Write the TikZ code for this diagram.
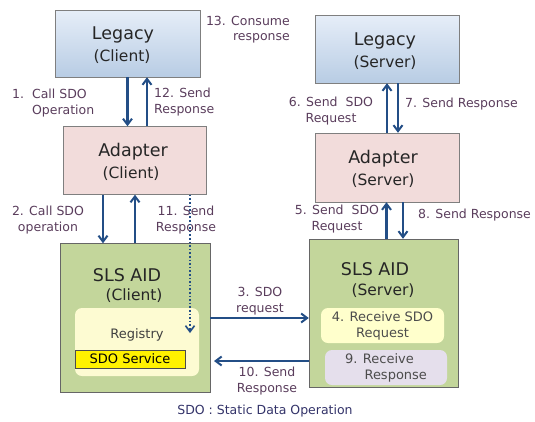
\documentclass[tikz,border=0pt]{standalone}
\usepackage{fontspec}
\setmainfont{DejaVu Sans}
\usetikzlibrary{arrows.meta,positioning,calc}
\definecolor{legtop}{HTML}{E6EEF8}
\definecolor{legbot}{HTML}{B8CCE4}
\definecolor{adpfill}{HTML}{F2DCDB}
\definecolor{slsfill}{HTML}{C3D69B}
\definecolor{regfill}{HTML}{FDFBD2}
\definecolor{reqfill}{HTML}{FFFFCC}
\definecolor{respfill}{HTML}{E5DFEC}
\definecolor{arrblue}{HTML}{234E86}
\definecolor{lbltext}{HTML}{5A3D5C}
\definecolor{boxline}{HTML}{7F7F7F}
\tikzset{
  legbox/.style={
    rectangle, draw=boxline, top color=legtop, bottom color=legbot,
    minimum width=#1, minimum height=67pt, inner sep=0pt, align=center
  },
  adpbox/.style={
    rectangle, draw=boxline, fill=adpfill,
    minimum width=#1, minimum height=68pt, inner sep=0pt, align=center
  },
  slsbox/.style={
    rectangle, draw=black!60, fill=slsfill,
    minimum width=150pt, minimum height=149pt, inner sep=0pt
  },
  inbox/.style={
    rectangle, rounded corners=7pt, fill=#1, inner sep=0pt
  },
  title/.style={font=\fontsize{17.5}{20}\selectfont, text=black!85},
  sub/.style={font=\fontsize{15.5}{18}\selectfont, text=black!85},
  lbl/.style={font=\fontsize{12.5}{15.5}\selectfont, text=lbltext, inner sep=0pt},
  arr/.style={-{Straight Barb[length=6pt,width=9pt,line width=2pt]}, line width=2.2pt, arrblue},
  darr/.style={-{Straight Barb[length=6pt,width=9pt,line width=1.6pt]}, line width=1.6pt, arrblue, dotted}
}
\begin{document}
\begin{tikzpicture}[x=1pt, y=-1pt]
\useasboundingbox (0,0) rectangle (535,421);

% Client side
\node[legbox=145pt] (legc) at (127.5,43.5) {};
\node[title] (legct) at (123,35) {Legacy};
\node[sub] (legcs) at (122,57) {(Client)};

\node[adpbox=143pt] (adc) at (134.5,160.5) {};
\node[title] (adct) at (133,152) {Adapter};
\node[sub] (adcs) at (131,174) {(Client)};

\node[slsbox] (slsc) at (135,318) {};
\node[title] (slsct) at (127,275) {SLS AID};
\node[sub] (slscs) at (134,296) {(Client)};
\node[inbox=regfill, minimum width=124pt, minimum height=68pt] (reg) at (137,342) {};
\node[font=\fontsize{13}{15}\selectfont, text=black!75] (regt) at (137,335) {Registry};
\node[rectangle, draw=black!70, fill=yellow, minimum width=110pt, minimum height=18pt,
      inner sep=0pt, font=\fontsize{13}{15}\selectfont] (sdo) at (130,359) {SDO Service};

% Server side
\node[legbox=144pt, minimum height=68pt] (legs) at (387,49) {};
\node[title] (legst) at (385,41) {Legacy};
\node[sub] (legss) at (385,63) {(Server)};

\node[adpbox=144pt, minimum height=69pt] (ads) at (387,167.5) {};
\node[title] (adst) at (383,159) {Adapter};
\node[sub] (adss) at (383,181) {(Server)};

\node[slsbox, minimum width=149pt, minimum height=148pt] (slss) at (383.5,313) {};
\node[title] (slsst) at (375,269) {SLS AID};
\node[sub] (slsss) at (383,291) {(Server)};
\node[inbox=reqfill, minimum width=123pt, minimum height=35pt,
      font=\fontsize{13}{16}\selectfont, text=black!70, align=center] (recvq) at (382.5,325.5)
  {4. Receive SDO\\Request};
\node[inbox=respfill, minimum width=122pt, minimum height=35pt,
      font=\fontsize{13}{16}\selectfont, text=black!70, align=left] (recvr) at (386,367.5)
  {9. Receive\\\hspace{1.5em}Response};

% Labels
\node[lbl, align=right, anchor=north east] (l13) at (290,16) {13. Consume\\response};
\node[lbl, align=left, anchor=north west] (l1) at (12,89) {1.~~Call SDO\\\phantom{1.~~}Operation};
\node[lbl, align=left, anchor=north west] (l12) at (154,88) {12. Send\\Response};
\node[lbl, align=center] (l2) at (48,220) {2. Call SDO\\operation};
\node[lbl, align=center] (l11) at (186,220) {11. Send\\Response};
\node[lbl, align=center] (l6) at (331,111) {6. Send~~SDO\\Request};
\node[lbl, anchor=west] (l7) at (405,104) {7. Send Response};
\node[lbl, align=center] (l5) at (337,219) {5. Send~~SDO\\Request};
\node[lbl, anchor=west] (l8) at (418,215) {8. Send Response};
\node[lbl, align=center] (l3) at (260,301) {3. SDO\\request};
\node[lbl, align=center] (l10) at (267,381) {10. Send\\Response};
\node[font=\fontsize{12.5}{15}\selectfont, text=black!65!blue!60!gray] (foot) at (265,411)
  {SDO : Static Data Operation};

% ── Arrows ──
\draw[arr] (legc.south) -- (legc.south |- adc.north);
\draw[arr] ([xshift=12.5pt]adc.north) -- ([xshift=12.5pt]adc.north |- legc.south);
\draw[arr] ([xshift=-31.5pt]adc.south) -- ([xshift=-31.5pt]adc.south |- slsc.north);
\draw[arr] (slsc.north) -- (slsc.north |- adc.south);

\coordinate (dotend) at (190,333);
\draw[darr] (dotend |- adc.south) -- (dotend);

\draw[arr] (ads.north) -- (ads.north |- legs.south);
\draw[arr] ([xshift=11pt]legs.south) -- ([xshift=11pt]legs.south |- ads.north);
\draw[arr] ([xshift=3pt]slss.north) -- ([xshift=3pt]slss.north |- ads.south);
\draw[arr] ([xshift=16pt]ads.south) -- ([xshift=16pt]ads.south |- slss.north);

\draw[arr] (slsc.east) -- (slsc.east -| slss.west);
\coordinate (backend) at (214,361);
\draw[arr] (backend -| slss.west) -- (backend);

\end{tikzpicture}
\end{document}
